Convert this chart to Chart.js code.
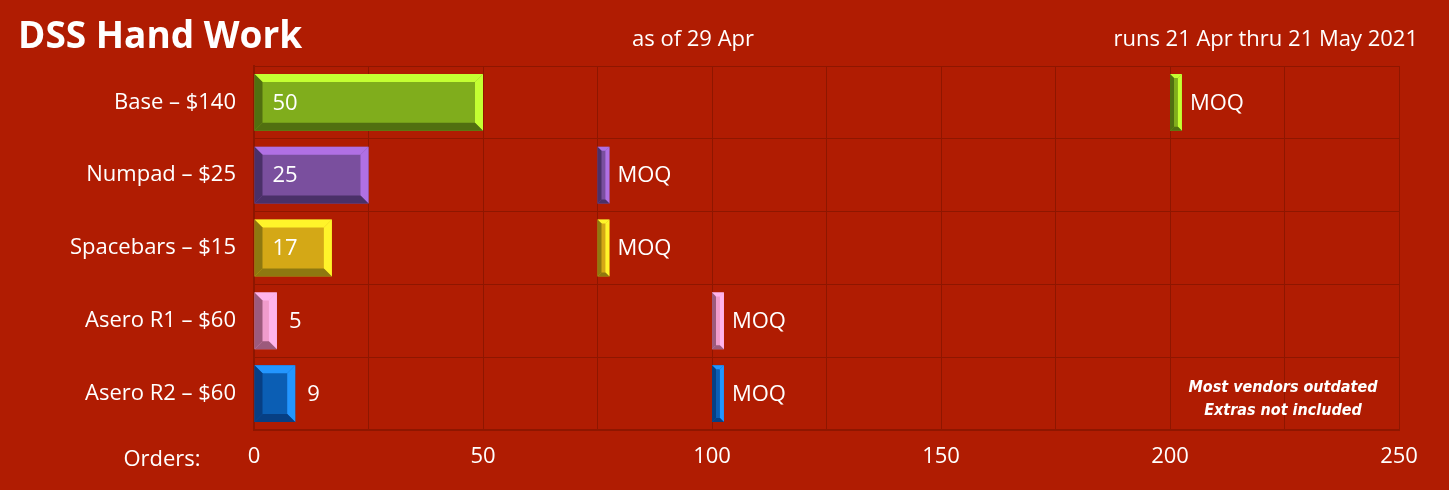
<!DOCTYPE html>
<html><head><meta charset="utf-8">
<script src="https://cdn.jsdelivr.net/npm/chart.js@4"></script>
<style>html,body{margin:0;background:#b01c02;}#w{width:1449px;height:490px;}</style>
</head><body><div id="w"><canvas id="c"></canvas></div>
<script>
const categories = ["Base – $140","Numpad – $25","Spacebars – $15","Asero R1 – $60","Asero R2 – $60"];
const orders = [50,25,17,5,9];
const moq = [200,75,75,100,100];
const moqWidth = 2.6;
const xTickLabels = [0,50,100,150,200,250];
const faceColors = ["#80ad1c","#7a4f9e","#d4a816","#f09ccc","#0b5eb4"];
const lightColors = ["#c4ff32","#b070e4","#fff42a","#ffb4ec","#2396ff"];
const darkColors = ["#516f10","#4a3068","#8e7810","#9c5a7c","#073f84"];
const F = "'Open Sans', sans-serif";

function bevel(ctx,x0,y0,x1,y1,b,face,light,dark){
  ctx.fillStyle=face;ctx.fillRect(x0,y0,x1-x0,y1-y0);
  const p=(pts,c)=>{ctx.beginPath();ctx.moveTo(pts[0],pts[1]);for(let i=2;i<pts.length;i+=2)ctx.lineTo(pts[i],pts[i+1]);ctx.closePath();ctx.fillStyle=c;ctx.fill();};
  p([x0,y0,x1,y0,x1-b,y0+b,x0+b,y0+b],light);
  p([x1,y0,x1,y1,x1-b,y1-b,x1-b,y0+b],light);
  p([x0,y0,x0+b,y0+b,x0+b,y1-b,x0,y1],dark);
  p([x0,y1,x0+b,y1-b,x1-b,y1-b,x1,y1],dark);
}

const deco = {
  id:'deco',
  afterDatasetsDraw(chart){
    const ctx=chart.ctx;
    ctx.save();
    const m0=chart.getDatasetMeta(0), m1=chart.getDatasetMeta(1);
    m0.data.forEach((el,i)=>{
      const x0=el.base,x1=el.x,y0=el.y-el.height/2,y1=el.y+el.height/2;
      const b=Math.min(8,(x1-x0)/2.6);
      bevel(ctx,x0,y0,x1,y1,b,faceColors[i],lightColors[i],darkColors[i]);
      ctx.fillStyle="#fff";ctx.font="22px "+F;ctx.textBaseline="middle";ctx.textAlign="left";
      const tx=(x1-x0)>60?x0+18:x1+12;
      ctx.fillText(String(orders[i]),tx,el.y+1);
    });
    m1.data.forEach((el,i)=>{
      const x0=el.base,x1=el.x,y0=el.y-el.height/2,y1=el.y+el.height/2;
      bevel(ctx,x0,y0,x1,y1,4,faceColors[i],lightColors[i],darkColors[i]);
      ctx.fillStyle="#fff";ctx.font="22px "+F;ctx.textBaseline="middle";ctx.textAlign="left";
      ctx.fillText("MOQ",x1+8,el.y+1);
    });
    ctx.fillStyle="#fff";ctx.textBaseline="middle";
    ctx.font="bold 37px "+F;ctx.textAlign="left";ctx.fillText("DSS Hand Work",18,37);
    ctx.font="22px "+F;ctx.textAlign="center";ctx.fillText("as of 29 Apr",693,40);
    ctx.textAlign="right";ctx.fillText("runs 21 Apr thru 21 May 2021",1418,40);
    ctx.textAlign="center";ctx.fillText("Orders:",162,460);
    ctx.font="italic bold 16px 'Liberation Sans Narrow', 'DejaVu Sans Condensed', sans-serif";
    ctx.fillText("Most vendors outdated",1283,388);ctx.fillText("Extras not included",1283,411);
    ctx.restore();
  }
};

new Chart(document.getElementById('c'),{
  type:'bar',
  data:{labels:categories,datasets:[
    {data:orders,backgroundColor:'rgba(0,0,0,0)',grouped:false,barPercentage:0.78,categoryPercentage:1},
    {data:moq.map(v=>[v,v+moqWidth]),backgroundColor:'rgba(0,0,0,0)',grouped:false,barPercentage:0.78,categoryPercentage:1}
  ]},
  options:{indexAxis:'y',responsive:true,maintainAspectRatio:false,animation:false,
    layout:{padding:{left:0,right:50,top:66,bottom:0}},
    plugins:{legend:{display:false},tooltip:{enabled:false}},
    scales:{
      x:{min:0,max:250,afterFit(s){s.height=60;},
        ticks:{stepSize:25,autoSkip:false,maxRotation:0,color:'#fff',font:{family:F,size:22},padding:14,
          callback:v=>xTickLabels.includes(v)?String(v):''},
        grid:{color:'#8e1600',lineWidth:1,drawTicks:false},
        border:{color:'#8e1600',width:2}},
      y:{afterFit(s){s.width=254;},
        ticks:{color:'#fff',font:{family:F,size:22},padding:18},
        grid:{color:'#8e1600',lineWidth:1,drawTicks:false,offset:true},
        border:{color:'#8e1600',width:2}}
    }},
  plugins:[deco]
});
</script></body></html>
